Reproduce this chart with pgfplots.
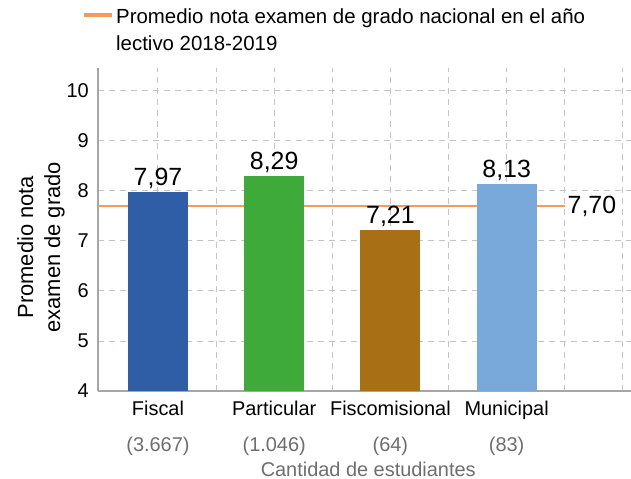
\documentclass[border=0pt]{standalone}
\usepackage{fontspec}
\setmainfont{Liberation Sans}
\usepackage{pgfplots}
\pgfplotsset{compat=1.18}

\definecolor{cFiscal}{HTML}{2F5DA6}
\definecolor{cPart}{HTML}{3DAA3A}
\definecolor{cFisco}{HTML}{A86F14}
\definecolor{cMuni}{HTML}{79A9DB}
\definecolor{cLine}{HTML}{F79A55}
\definecolor{cGrid}{HTML}{C4C4C4}
\definecolor{cAxis}{HTML}{A6A6A6}
\definecolor{cGray}{HTML}{6E6E6E}

\pgfplotsset{
  barstyle/.style={ybar, bar width=60bp, bar shift=0pt, draw=none, fill=#1, forget plot,
    nodes near coords,
    every node near coord/.append style={font=\fontsize{25}{30}\selectfont, text=black}},
}

\begin{document}
\begin{tikzpicture}
\useasboundingbox (-98bp,-88bp) rectangle (533bp,391bp);
\begin{axis}[
  at={(0,0)}, anchor=south west,
  scale only axis, width=533bp, height=323bp,
  xmin=-0.516, xmax=4.07, ymin=4, ymax=10.46,
  axis x line*=bottom, axis y line*=left,
  axis line style={-, cAxis, line width=2.6bp},
  xtick={0,1,2,3},
  minor xtick={0.5,1.5,2.5,3.5,4},
  ytick={4,5,6,7,8,9,10},
  major tick length=0pt, minor tick length=0pt,
  xmajorgrids, xminorgrids, ymajorgrids,
  grid style={cGrid, line width=1bp, dash pattern=on 6bp off 5bp},
  minor grid style={cGrid, line width=1bp, dash pattern=on 6bp off 5bp},
  xticklabels={{Fiscal\\[12bp]{\color{cGray}(3.667)}},
               {Particular\\[12bp]{\color{cGray}(1.046)}},
               {Fiscomisional\\[12bp]{\color{cGray}(64)}},
               {Municipal\\[12bp]{\color{cGray}(83)}}},
  xticklabel style={align=center, anchor=north, inner sep=0pt, yshift=-9.5bp,
    font=\fontsize{20}{24}\selectfont},
  yticklabel style={font=\fontsize{20}{24}\selectfont, anchor=east, inner sep=0pt, xshift=-9bp},
  /pgf/number format/assume math mode=true,
  /pgf/number format/use comma, /pgf/number format/fixed,
  /pgf/number format/fixed zerofill, /pgf/number format/precision=2,
  yticklabel={\pgfmathprintnumber[fixed, precision=0, fixed zerofill=false]{\tick}},
  xlabel={Cantidad de estudiantes},
  xlabel style={at={(axis description cs:0.507,0)}, anchor=base, yshift=-85bp,
    font=\fontsize{20}{24}\selectfont, text=cGray},
  ylabel={Promedio nota\\examen de grado},
  ylabel style={at={(axis description cs:-0.107,0.445)}, anchor=center,
    align=center, font=\fontsize{22}{27}\selectfont},
  legend style={at={(-0.03,1.19)}, anchor=north west, draw=none, fill=none,
    font=\fontsize{20.5}{27}\selectfont, inner sep=0pt, cells={align=left, anchor=west}},
  legend image code/.code={
    \draw[#1, line width=4bp] (0bp,15bp) -- (28bp,15bp);},
  clip=false,
]
% national average line, drawn first so that it lies behind the bars
\addplot[cLine, line width=2.8bp] coordinates {(-0.516,7.70) (3.5,7.70)}
  node[pos=1, anchor=west, inner sep=1.5bp, text=black, font=\fontsize{25}{30}\selectfont] {7,70};
\addlegendentry{Promedio nota examen de grado nacional en el año\\lectivo 2018-2019}
\addplot[barstyle=cFiscal] coordinates {(0,7.97)};
\addplot[barstyle=cPart] coordinates {(1,8.29)};
\addplot[barstyle=cFisco] coordinates {(2,7.21)};
\addplot[barstyle=cMuni] coordinates {(3,8.13)};
\end{axis}
\end{tikzpicture}
\end{document}
